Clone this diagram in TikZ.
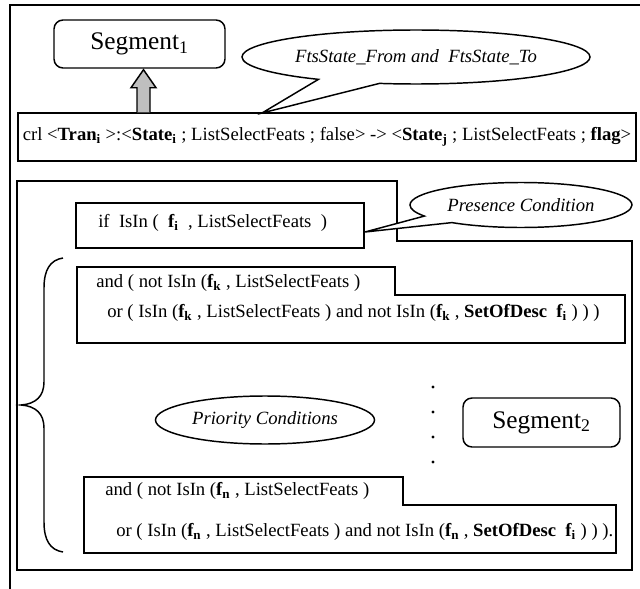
\documentclass[tikz,border=0pt]{standalone}
\usepackage{fontspec}
\setmainfont{Liberation Serif}
\usetikzlibrary{shapes.geometric,shapes.callouts,calc}
\newcommand{\sbs}[1]{\textsubscript{#1}}
\begin{document}
\begin{tikzpicture}[x=0.75pt,y=-0.75pt,
  every node/.style={font=\fontsize{14}{17}\selectfont},
  ln/.style={line width=1.1pt},
  segbox/.style={draw,ln,rounded corners=6.75pt,inner sep=0pt,font=\fontsize{19}{22}\selectfont},
  callbox/.style={ellipse callout,draw,ln,fill=white,inner sep=0pt,callout pointer arc=22,font=\fontsize{14}{17}\selectfont\itshape},
  plainbox/.style={draw,ln,inner sep=0pt},
  txt/.style={anchor=west,inner sep=0pt},
  dotst/.style={fill,circle,inner sep=0pt,minimum size=2.6pt}
]
\useasboundingbox (0,0) rectangle (640,589);
% outer frame (top and left)
\coordinate (otr) at (640,5);
\coordinate (otl) at (10,5);
\coordinate (obl) at (10,589);
\draw[ln] (otr) -- (otl) -- (obl);

% Segment1
\node[segbox,minimum width=128.25pt,minimum height=36pt] (seg1) at (139.5,44) {Segment\sbs{1}};

% crl box
\node[plainbox,minimum width=463.5pt,minimum height=36pt] (crl) at (327,137)
  {crl <\textbf{Tran\sbs{i}} >:<\textbf{State\sbs{i}} ; ListSelectFeats ; false> -> <\textbf{State\sbs{j}} ; ListSelectFeats ; \textbf{flag}>};

% gray block arrow from crl to Segment1
\coordinate (abase) at (crl.north -| 143.5,0);
\coordinate (atip) at (seg1.south -| 143.5,0);
\draw[ln,fill=gray!50] ($(abase)+(-6.5,0)$) -- ($(atip)+(-6.5,19)$) -- ($(atip)+(-12.5,19)$) -- ($(atip)+(0,1)$)
  -- ($(atip)+(12.5,19)$) -- ($(atip)+(6.5,19)$) -- ($(abase)+(6.5,0)$);

% callout FtsState
\node[callbox,minimum width=261pt,minimum height=40.5pt,callout absolute pointer={(262,113)}] (fts) at (416,57)
  {FtsState\_From and\ \ FtsState\_To};

% inner frame
\coordinate (f1) at (17,181);
\coordinate (f2) at (397,181);
\coordinate (f3) at (397,241);
\coordinate (f4) at (632,241);
\coordinate (f5) at (632,570);
\coordinate (f6) at (17,570);
\draw[ln] (f1) -- (f2) -- (f3) -- (f4) -- (f5) -- (f6) -- cycle;

% if box
\coordinate (ifa) at (76,203);
\coordinate (ifb) at (364,248);
\draw[ln] (ifa) rectangle (ifb);
\node[txt] (iftext) at (98,223) {if\ \ IsIn (\ \ \textbf{f\sbs{i}}\ \ , ListSelectFeats\ \ )};

% presence callout
\node[callbox,minimum width=166.5pt,minimum height=33.75pt,callout absolute pointer={(365,232)}] (pres) at (521,205)
  {Presence Condition};

% k box
\coordinate (k1) at (77,267);
\coordinate (k2) at (395,267);
\coordinate (k3) at (395,295);
\coordinate (k4) at (625,295);
\coordinate (k5) at (625,343);
\coordinate (k6) at (77,343);
\draw[ln] (k1) -- (k2) -- (k3) -- (k4) -- (k5) -- (k6) -- cycle;
\node[txt] (ka) at (96,283) {and ( not IsIn (\textbf{f\sbs{k}} , ListSelectFeats )};
\node[txt] (kb) at (107,313) {or ( IsIn (\textbf{f\sbs{k}} , ListSelectFeats ) and not IsIn (\textbf{f\sbs{k}} , \textbf{SetOfDesc\ \ f\sbs{i}} ) ) )};

% brace
\coordinate (b1) at (63,258);
\coordinate (b2) at (63,552);
\draw[ln] (b1) .. controls (50,260) and (44,270) .. (44,288) -- (44,382)
  .. controls (44,396) and (36,404) .. (21,405) .. controls (36,406) and (44,414) .. (44,428)
  -- (44,522) .. controls (44,540) and (50,550) .. (b2);

% priority ellipse
\node[ellipse,draw,ln,inner sep=0pt,minimum width=164.25pt,minimum height=36pt,font=\fontsize{14}{17}\selectfont\itshape] (prio) at (265,420) {Priority Conditions};

% dots
\node[dotst] (d1) at (433,387) {};
\node[dotst] (d2) at (433,412) {};
\node[dotst] (d3) at (433,437) {};
\node[dotst] (d4) at (433,462) {};

% Segment2
\node[segbox,minimum width=117.75pt,minimum height=36.75pt] (seg2) at (541.5,422.5) {Segment\sbs{2}};

% n box
\coordinate (n1) at (84,477);
\coordinate (n2) at (403,477);
\coordinate (n3) at (403,505);
\coordinate (n4) at (616,505);
\coordinate (n5) at (616,553);
\coordinate (n6) at (84,553);
\draw[ln] (n1) -- (n2) -- (n3) -- (n4) -- (n5) -- (n6) -- cycle;
\node[txt] (na) at (105,491) {and ( not IsIn (\textbf{f\sbs{n}} , ListSelectFeats )};
\node[txt] (nb) at (116,532) {or ( IsIn (\textbf{f\sbs{n}} , ListSelectFeats ) and not IsIn (\textbf{f\sbs{n}} , \textbf{SetOfDesc\ \ f\sbs{i}} ) ) ).};
\end{tikzpicture}
\end{document}
